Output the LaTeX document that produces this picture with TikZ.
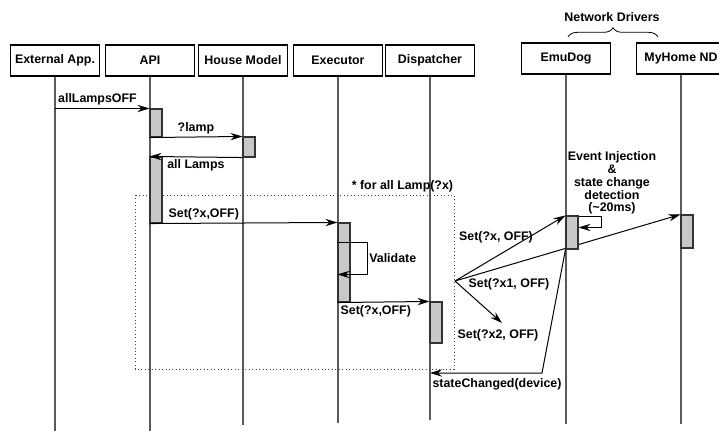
\documentclass[tikz,border=0pt]{standalone}
\usepackage{fontspec}
\setmainfont{Liberation Sans}
\usetikzlibrary{arrows.meta,decorations.pathreplacing,backgrounds}

\definecolor{barfill}{HTML}{C8C8C8}
\definecolor{lifegray}{HTML}{5A5A5A}

\newcommand{\labelfont}{\fontsize{9.3}{9.6}\selectfont\bfseries}

\tikzset{
	actor/.style={draw=black, line width=0.9pt, minimum width=66.75pt, minimum height=23.25pt, inner sep=0pt, font=\labelfont},
	lifeline/.style={draw=lifegray, line width=0.8pt},
	bar/.style={draw=black!80, fill=barfill, line width=0.8pt, minimum width=9pt, inner sep=0pt},
	msg/.style={draw=black, line width=0.75pt, -{Stealth[length=9pt,width=5.5pt,inset=3pt]}},
	lbl/.style={font=\labelfont, inner sep=2pt},
}

\begin{document}
\begin{tikzpicture}[x=0.75pt, y=-0.75pt]
		\useasboundingbox (0,0) rectangle (719,430);

		% actors
		\node[actor] (ext) at (55,60.5) {External App.};
		\node[actor] (api) at (150,60.5) {API};
		\node[actor] (hm) at (243,60.5) {House Model};
		\node[actor] (exe) at (338,60.5) {Executor};
		\node[actor] (dsp) at (430,60.5) {Dispatcher};
		\node[actor] (emu) at (566,58.5) {EmuDog};
		\node[actor] (myh) at (681,58.5) {MyHome ND};

		\draw[decorate, decoration={brace, amplitude=7pt}, line width=0.6pt] (568,37) -- (658,37);
		\node[lbl] (drv) at (612,17) {Network Drivers};

		% activations
		\node[bar, minimum height=21pt] (apiA) at (156,123) {};
		\node[bar, minimum height=15pt] (hmA) at (249,147) {};
		\node[bar, minimum height=49.5pt] (apiB) at (156,190) {};
		\node[bar, minimum height=59.25pt] (exA) at (344,262.5) {};
		\node[bar, minimum height=30.75pt] (dspA) at (436,322.5) {};
		\node[bar, minimum height=24.75pt] (emuA) at (572,232.5) {};
		\node[bar, minimum height=24.75pt] (mhA) at (687,231.5) {};

		\coordinate (fan) at (455,281);
		\coordinate (x2) at (502,323);
		\coordinate (sc) at (542,373);

		\begin{scope}[on background layer]
			\draw[lifeline] (ext.south) -- ++(0,354);
			\draw[lifeline] (api.south) -- ++(0,354);
			\draw[lifeline] (hm.south) -- ++(0,348);
			\draw[lifeline] (exe.south) -- ++(0,346);
			\draw[lifeline] (dsp.south) -- ++(0,343);
			\draw[lifeline] (emu.south) -- ++(0,349);
			\draw[lifeline] (myh.south) -- ++(0,349);

			% loop frame
			\draw[dotted, line width=0.6pt, draw=black!75] (135,195) rectangle (454,369);
			\draw[msg] (fan) -- (mhA.north west);
		\end{scope}
		\node[lbl, anchor=south east] (lLoop) at (456,195) {* for all Lamp(?x)};

		% messages
		\draw[msg] (ext |- apiA.north west) -- (apiA.north west)
			node[lbl, pos=0, anchor=south west] (lOff) {allLampsOFF};
		\draw[msg] (apiA.south west) -- (hmA.north west)
			node[lbl, midway, above] (lLamp) {?lamp};
		\draw[msg] (hmA.south west) -- (apiB.north west)
			node[lbl, pos=1, anchor=north west, xshift=11pt] (lAll) {all Lamps};
		\draw[msg] (apiB.south west) -- (exA.north west)
			node[lbl, pos=0, anchor=south west, xshift=12pt] (lSet) {Set(?x,OFF)};
		\draw[msg] ([yshift=-15pt]exA.north west) -- ++(30,0) -- ++(0,32)
			node[lbl, midway, anchor=west, inner sep=1pt] (lVal) {Validate} -- ++(-30,0);
		\draw[msg] (exA.south west) -- (dspA.north west)
			node[lbl, pos=0, anchor=north west] (lSetB) {Set(?x,OFF)};

		% to the drivers
		\draw[msg] (fan) -- (emuA.north west);
		\draw[msg] (fan) -- (x2);
		\node[lbl] (lSetX) at (496,237) {Set(?x, OFF)};
		\node[lbl] (lSetXa) at (509,284) {Set(?x1, OFF)};
		\node[lbl] (lSetXb) at (498,335) {Set(?x2, OFF)};

		\draw[msg] ([yshift=-0.75pt]emuA.north east) -- ++(23,0) -- ++(0,11) -- ++(-23,0);
		\node[lbl, align=center] (lEvt) at (612,183) {Event Injection\\\&\\state change\\detection\\(\textasciitilde 20ms)};

		\draw[msg] (emuA.south west) -- (sc) -- (dsp |- sc);
		\node[lbl] (lState) at (497,384) {stateChanged(device)};
	\end{tikzpicture}
\end{document}
